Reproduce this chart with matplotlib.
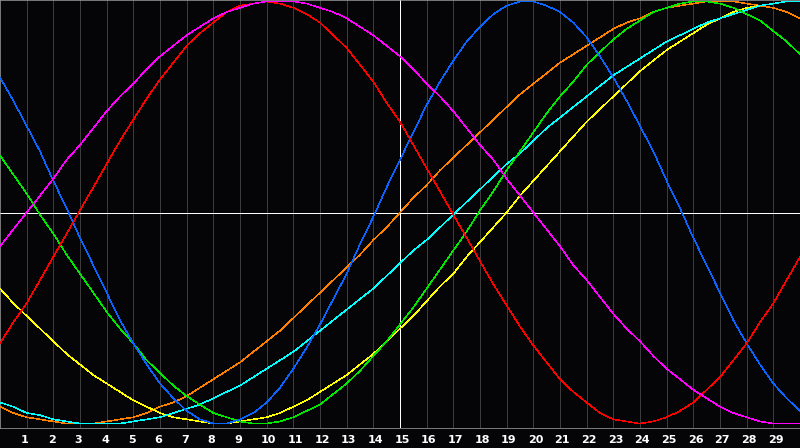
"""
生物节律图：30 天窗口，七条节律曲线（-100 ~ 100），黑底 + 日网格。
"""

import matplotlib
matplotlib.use("Agg")
import matplotlib.pyplot as plt
from matplotlib.transforms import ScaledTranslation

plt.rcParams["font.family"] = ["DejaVu Sans"]

# ── 数据：每半天一个节律值（%） ────────────────────────────────────────
days = [i / 2 for i in range(61)]          # 0, 0.5, 1, ..., 30
day_ticks = list(range(1, 30))
day_labels = [str(d) for d in day_ticks]
today = 15

physical = [64, 53, 41, 29, 15, 2, -12, -25, -38, -51, -62, -72, -81, -88, -94, -98,
            -100, -100, -98, -95, -90, -83, -74, -64, -53, -41, -29, -15, -2, 12, 25,
            38, 51, 62, 72, 81, 88, 94, 98, 100, 100, 98, 95, 90, 83, 74, 64, 53, 41,
            29, 15, 2, -12, -25, -38, -51, -62, -72, -81, -88, -94]
emotional = [-62, -52, -43, -32, -21, -10, 1, 12, 23, 34, 44, 54, 63, 71, 79, 85, 90,
             95, 98, 99, 100, 99, 97, 94, 90, 84, 78, 70, 62, 52, 43, 32, 21, 10, -1,
             -12, -23, -34, -44, -54, -63, -71, -79, -85, -90, -95, -98, -99, -100,
             -99, -97, -94, -90, -84, -78, -70, -62, -52, -43, -32, -21]
intellectual = [27, 18, 9, -1, -10, -20, -29, -38, -47, -55, -62, -70, -76, -82, -87,
                -91, -95, -97, -99, -100, -100, -99, -97, -94, -91, -86, -81, -75, -68,
                -61, -53, -45, -36, -27, -18, -9, 1, 10, 20, 29, 38, 47, 55, 62, 70, 76,
                82, 87, 91, 95, 97, 99, 100, 100, 99, 97, 94, 91, 86, 81, 75]
intuitive = [-16, -8, 0, 8, 16, 25, 32, 40, 48, 55, 61, 68, 74, 79, 84, 88, 92, 95, 97,
             99, 100, 100, 100, 99, 97, 95, 92, 88, 84, 79, 74, 68, 61, 55, 48, 40, 32,
             25, 16, 8, 0, -8, -16, -25, -32, -40, -48, -55, -61, -68, -74, -79, -84,
             -88, -92, -95, -97, -99, -100, -100, -100]
aesthetic = [-36, -43, -49, -55, -61, -67, -72, -77, -81, -85, -89, -92, -95, -97, -98,
             -99, -100, -100, -99, -98, -97, -95, -92, -89, -85, -81, -77, -72, -67, -61,
             -55, -49, -42, -35, -29, -21, -14, -7, 0, 8, 15, 22, 29, 36, 43, 49, 55, 61,
             67, 72, 77, 81, 85, 89, 92, 95, 97, 98, 99, 100, 100]
awareness = [-92, -95, -97, -98, -99, -100, -100, -100, -99, -98, -97, -95, -92, -90,
             -87, -83, -79, -75, -71, -66, -61, -56, -50, -44, -38, -32, -26, -20, -13,
             -7, 0, 7, 13, 20, 26, 32, 38, 44, 50, 56, 61, 66, 71, 75, 79, 83, 87, 90,
             92, 95, 97, 98, 99, 100, 100, 100, 99, 98, 97, 95, 92]
spiritual = [-90, -92, -95, -96, -98, -99, -100, -100, -100, -100, -99, -98, -97, -95,
             -93, -91, -88, -85, -82, -78, -74, -70, -66, -61, -56, -51, -46, -41, -36,
             -30, -24, -18, -13, -7, -1, 5, 11, 17, 23, 28, 34, 40, 45, 50, 55, 60, 65,
             69, 73, 77, 81, 84, 87, 90, 92, 94, 96, 98, 99, 100, 100]

# (数据, 颜色) —— 画的先后即叠放顺序
SERIES = [
    (awareness, "#ff8000"),
    (aesthetic, "#ffff00"),
    (spiritual, "#00ffff"),
    (intellectual, "#00e800"),
    (physical, "#0a64ff"),
    (emotional, "#ff0000"),
    (intuitive, "#ff00ff"),
]

BG = "#050508"
GRID = "#3c3c3c"
BORDER = "#a8a8a8"
LW = 0.5        # 网格 / 边框，约 1 像素
CURVE_LW = 0.36  # 曲线更细一些，避免走样后变成 2 像素

fig = plt.figure(figsize=(8.0, 4.48), dpi=100, facecolor=BG)
ax = fig.add_axes([0.0, 20 / 448, 1.0, 428 / 448], facecolor=BG)

# 日网格 + 今天的竖线 + 零线
for d in day_ticks:
    ax.axvline(d, color=GRID, lw=LW, antialiased=False, zorder=1)
ax.axvline(today, color="white", lw=LW, antialiased=False, zorder=2)
ax.axhline(0, color="white", lw=LW, antialiased=False, zorder=2)

for vals, color in SERIES:
    ax.plot(days, vals, color=color, lw=CURVE_LW, antialiased=False, zorder=3)

ax.set_xlim(0, 30)
ax.set_ylim(-102.1, 100.7)

ax.set_xticks(day_ticks)
ax.set_xticklabels(day_labels, color="white", fontsize=8, fontweight="bold")
ax.tick_params(axis="x", length=0, pad=5)
ax.set_yticks([])
# 标签左对齐，起点在网格线左边约 5 像素
shift = ScaledTranslation(-5.5 / 100, 0, fig.dpi_scale_trans)
for lab in ax.get_xticklabels():
    lab.set_horizontalalignment("left")
    lab.set_transform(lab.get_transform() + shift)

for side in ("top", "left", "bottom"):
    ax.spines[side].set_color(BORDER)
    ax.spines[side].set_linewidth(LW)
ax.spines["right"].set_visible(False)

fig.savefig("out.png", dpi=100, facecolor=BG)
plt.close(fig)
